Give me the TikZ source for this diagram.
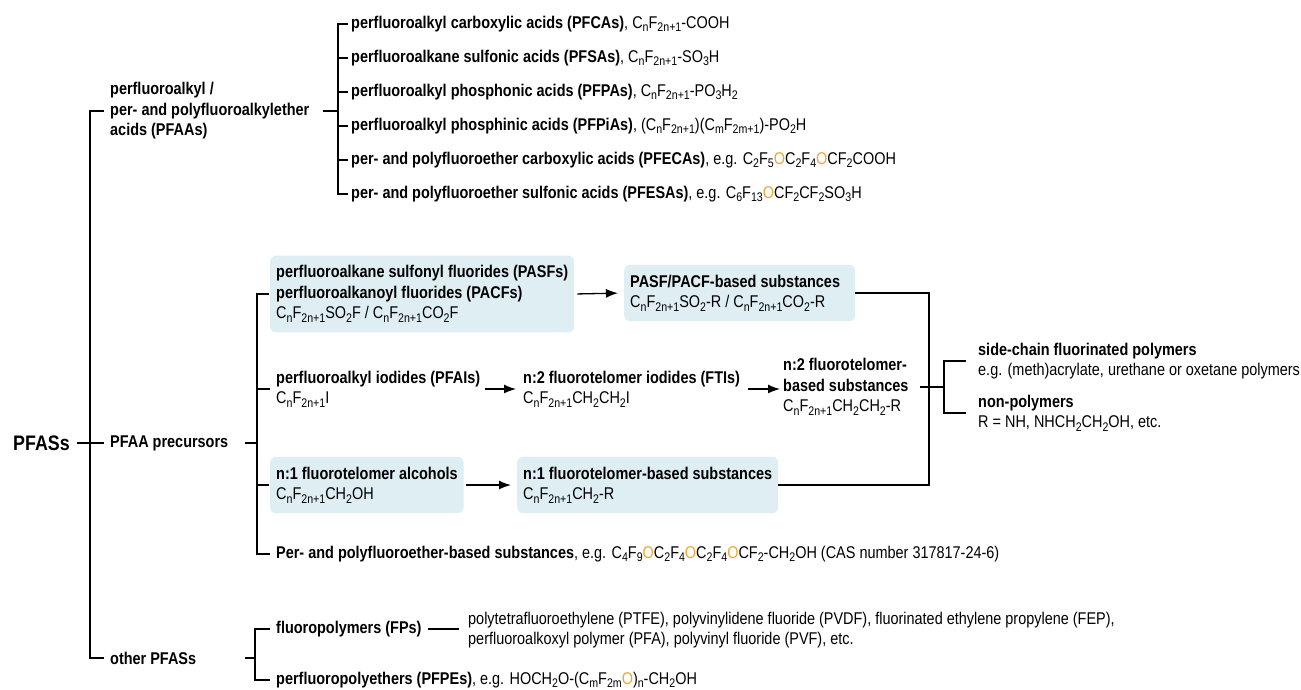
\documentclass[tikz,border=0pt]{standalone}
\usepackage{fontspec}
\setmainfont{Liberation Sans}[FakeStretch=0.85]
\usetikzlibrary{arrows.meta,positioning}

\definecolor{boxblue}{RGB}{222,238,243}
\definecolor{etherO}{RGB}{232,168,56}
\newcommand{\sbs}[1]{\raisebox{-3.6pt}{\fontsize{12.5}{12}\selectfont #1}}
\newcommand{\oxy}{\textcolor{etherO}{O}}
\newcommand{\cnf}{C\sbs{n}F\sbs{2n+1}}

\begin{document}
\begin{tikzpicture}[x=1pt, y=-1pt,
    font=\fontsize{17}{20.5}\selectfont,
    lbl/.style={anchor=west, inner sep=0pt, align=flush left},
    subbox/.style={lbl, fill=boxblue, rounded corners=6pt, inner xsep=6pt, inner ysep=10pt},
    link/.style={line width=1.3pt},
    arr/.style={link, -{Latex[length=12pt,width=9pt]}}]

  \fill[white] (0,0) rectangle (1301,689);
  \useasboundingbox (0,0) rectangle (1301,689);

  % Define nodes
  \node[lbl, font=\fontsize{21}{24}\selectfont\bfseries] (pfass) at (13,443) {PFASs};
  \node[lbl, text width=213pt, font=\fontsize{17}{20.5}\selectfont\bfseries] (pfaa) at (110,111)
    {perfluoroalkyl /\\per- and polyfluoroalkylether\\acids (PFAAs)};
  \node[lbl, text width=135pt, font=\fontsize{17}{20.5}\selectfont\bfseries] (prec) at (110,443) {PFAA precursors};
  \node[lbl, text width=135pt, font=\fontsize{17}{20.5}\selectfont\bfseries] (other) at (110,658) {other PFASs};

  % PFAA subclasses
  \node[lbl] (pfca) at (351,24) {\textbf{perfluoroalkyl carboxylic acids (PFCAs)}, \cnf-COOH};
  \node[lbl] (pfsa) at (351,58) {\textbf{perfluoroalkane sulfonic acids (PFSAs)}, \cnf-SO\sbs{3}H};
  \node[lbl] (pfpa) at (351,92) {\textbf{perfluoroalkyl phosphonic acids (PFPAs)}, \cnf-PO\sbs{3}H\sbs{2}};
  \node[lbl] (pfpia) at (351,126) {\textbf{perfluoroalkyl phosphinic acids (PFPiAs)}, (\cnf)(C\sbs{m}F\sbs{2m+1})-PO\sbs{2}H};
  \node[lbl] (pfeca) at (351,160) {\textbf{per- and polyfluoroether carboxylic acids (PFECAs)}, e.g. C\sbs{2}F\sbs{5}\oxy C\sbs{2}F\sbs{4}\oxy CF\sbs{2}COOH};
  \node[lbl] (pfesa) at (351,194) {\textbf{per- and polyfluoroether sulfonic acids (PFESAs)}, e.g. C\sbs{6}F\sbs{13}\oxy CF\sbs{2}CF\sbs{2}SO\sbs{3}H};

  % precursors
  \node[subbox] (pasf) at (270,294)
    {\textbf{perfluoroalkane sulfonyl fluorides (PASFs)}\\\textbf{perfluoroalkanoyl fluorides (PACFs)}\\\cnf SO\sbs{2}F / \cnf CO\sbs{2}F};
  \node[subbox, text width=219pt] (pasfsub) at (624,293)
    {\textbf{PASF/PACF-based substances}\\\cnf SO\sbs{2}-R / \cnf CO\sbs{2}-R};
  \node[lbl] (pfai) at (276,389) {\textbf{perfluoroalkyl iodides (PFAIs)}\\\cnf I};
  \node[lbl] (fti) at (523,389) {\textbf{n:2 fluorotelomer iodides (FTIs)}\\\cnf CH\sbs{2}CH\sbs{2}I};
  \node[lbl, text width=132pt] (ftsub) at (783,387)
    {\textbf{n:2 fluorotelomer-}\\\textbf{based substances}\\\cnf CH\sbs{2}CH\sbs{2}-R};
  \node[subbox] (ftoh) at (270,485) {\textbf{n:1 fluorotelomer alcohols}\\\cnf CH\sbs{2}OH};
  \node[subbox] (ftohsub) at (517,485) {\textbf{n:1 fluorotelomer-based substances}\\\cnf CH\sbs{2}-R};
  \node[lbl] (pfether) at (276,554)
    {\textbf{Per- and polyfluoroether-based substances}, e.g. C\sbs{4}F\sbs{9}\oxy C\sbs{2}F\sbs{4}\oxy C\sbs{2}F\sbs{4}\oxy CF\sbs{2}-CH\sbs{2}OH (CAS number 317817-24-6)};
  \node[lbl] (scfp) at (978,361) {\textbf{side-chain fluorinated polymers}\\e.g. (meth)acrylate, urethane or oxetane polymers};
  \node[lbl] (nonpoly) at (978,413) {\textbf{non-polymers}\\R = NH, NHCH\sbs{2}CH\sbs{2}OH, etc.};

  % other PFASs
  \node[lbl] (fp) at (276,629) {\textbf{fluoropolymers (FPs)}};
  \node[lbl] (fpex) at (468,630)
    {polytetrafluoroethylene (PTFE), polyvinylidene fluoride (PVDF), fluorinated ethylene propylene (FEP),\\perfluoroalkoxyl polymer (PFA), polyvinyl fluoride (PVF), etc.};
  \node[lbl] (pfpe) at (276,680) {\textbf{perfluoropolyethers (PFPEs)}, e.g. HOCH\sbs{2}O-(C\sbs{m}F\sbs{2m}\oxy)\sbs{n}-CH\sbs{2}OH};

  % bracket spines
  \coordinate (b0) at (90,443);
  \coordinate (ba) at (338,111);
  \coordinate (bp) at (257,443);
  \coordinate (bo) at (255,658);
  \coordinate (cl) at (929,387);
  \coordinate (bs) at (944,387);

  % Connect the nodes
  \draw[link, shorten <=6pt, shorten >=6pt] (pfaa.west) -- (b0 |- pfaa.west) -- (b0 |- other.west) -- (other.west);
  \draw[link, shorten <=7pt, shorten >=6pt] (pfass.east) -- (prec.west);

  \draw[link] (pfaa.east) -- (ba);
  \draw[link, shorten <=3pt, shorten >=3pt] (pfca.west) -- (ba |- pfca.west) -- (ba |- pfesa.west) -- (pfesa.west);
  \draw[link, shorten >=3pt] (ba |- pfsa.west) -- (pfsa.west);
  \draw[link, shorten >=3pt] (ba |- pfpa.west) -- (pfpa.west);
  \draw[link, shorten >=3pt] (ba |- pfpia.west) -- (pfpia.west);
  \draw[link, shorten >=3pt] (ba |- pfeca.west) -- (pfeca.west);

  \draw[link] (prec.east) -- (bp);
  \draw[link, shorten <=1pt, shorten >=6pt] (pasf.west) -- (bp |- pasf.west) -- (bp |- pfether.west) -- (pfether.west);
  \draw[link, shorten >=6pt] (bp |- pfai.west) -- (pfai.west);
  \draw[link, shorten >=1pt] (bp |- ftoh.west) -- (ftoh.west);

  \draw[arr, shorten <=3pt, shorten >=6pt] (pasf.east) -- (pasfsub.west);
  \draw[arr, shorten <=5pt, shorten >=7pt] (pfai.east) -- (fti.west);
  \draw[arr, shorten <=8pt, shorten >=3pt] (fti.east) -- (fti.east -| ftsub.west);
  \draw[arr, shorten <=2pt, shorten >=6pt] (ftoh.east) -- (ftohsub.west);

  \draw[link] (pasfsub.east) -- (pasfsub.east -| cl) -- (ftohsub.east -| cl) -- (ftohsub.east);
  \draw[link, shorten <=5pt] (ftsub.east) -- (bs);
  \draw[link, shorten <=12pt, shorten >=12pt] (scfp.west) -- (bs |- scfp.west) -- (bs |- nonpoly.west) -- (nonpoly.west);

  \draw[link] (other.east) -- (bo);
  \draw[link, shorten <=6pt, shorten >=6pt] (fp.west) -- (bo |- fp.west) -- (bo |- pfpe.west) -- (pfpe.west);
  \draw[link, shorten <=6pt, shorten >=9pt] (fp.east) -- (fpex.west |- fp.east);
\end{tikzpicture}
\end{document}
